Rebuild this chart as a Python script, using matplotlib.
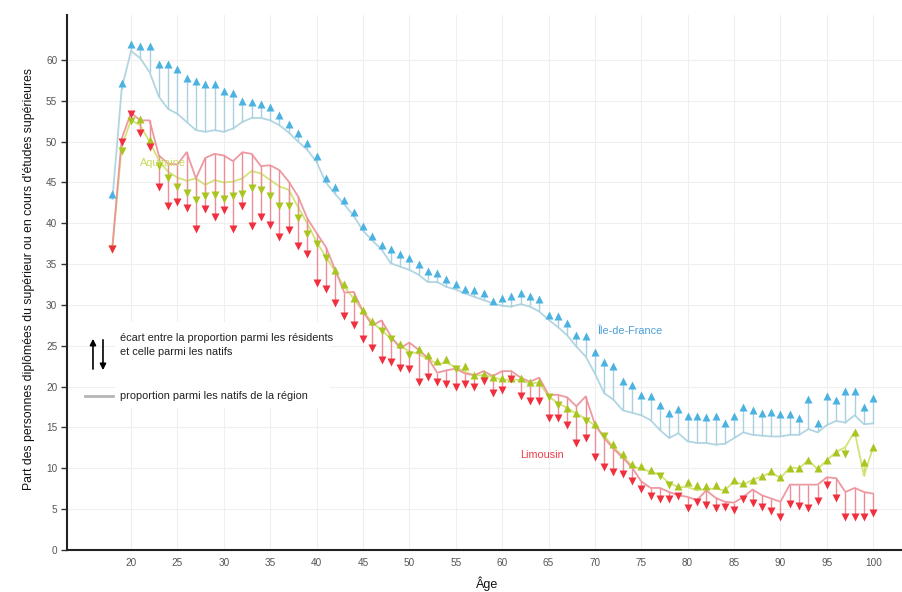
import matplotlib.pyplot as plt
from matplotlib.patches import Rectangle

plt.rcParams['font.family'] = ['Liberation Sans', 'DejaVu Sans']

ages = list(range(18, 101))

# Île-de-France : résidents / natifs
idf_res = [43.6, 57.2, 62.0, 61.7, 61.7, 59.5, 59.5, 58.9, 57.8, 57.4,
           57.1, 57.0, 56.2, 55.9, 55.0, 54.8, 54.6, 54.2, 53.2, 52.1,
           51.0, 49.8, 48.2, 45.6, 44.4, 42.9, 41.4, 39.7, 38.5, 37.4,
           36.8, 36.2, 35.7, 35.0, 34.1, 33.9, 33.2, 32.6, 32.0, 31.8,
           31.5, 30.5, 30.8, 31.1, 31.5, 31.1, 30.7, 28.8, 28.7, 27.8,
           26.3, 26.2, 24.2, 23.0, 22.5, 20.7, 20.2, 19.0, 18.8, 17.7,
           16.8, 17.3, 16.4, 16.4, 16.3, 16.4, 15.6, 16.4, 17.5, 17.2,
           16.8, 16.9, 16.6, 16.6, 16.1, 18.5, 15.5, 18.8, 18.4, 19.5,
           19.5, 17.5, 18.6]
idf_nat = [43.0, 56.5, 61.1, 60.2, 58.5, 55.5, 54.0, 53.4, 52.4, 51.4,
           51.2, 51.4, 51.2, 51.6, 52.4, 52.9, 52.9, 52.6, 52.0, 51.1,
           50.0, 49.0, 47.5, 45.0, 43.6, 42.3, 40.9, 39.1, 37.9, 36.8,
           35.1, 34.7, 34.3, 33.7, 32.8, 32.8, 32.2, 31.9, 31.4, 31.0,
           30.6, 30.2, 29.9, 29.8, 30.1, 29.8, 29.2, 28.2, 27.3, 26.3,
           24.9, 23.7, 21.6, 19.2, 18.4, 17.1, 16.8, 16.5, 15.9, 14.7,
           13.7, 14.3, 13.3, 13.1, 13.1, 12.9, 13.0, 13.7, 14.4, 14.1,
           14.0, 13.9, 13.9, 14.1, 14.1, 14.8, 14.4, 15.3, 15.8, 15.6,
           16.5, 15.4, 15.5]

# Limousin
lim_res = [36.8, 49.9, 53.4, 51.0, 49.4, 44.4, 42.1, 42.6, 41.9, 39.3,
           41.8, 40.8, 41.6, 39.3, 42.1, 39.7, 40.8, 39.8, 38.3, 39.2,
           37.2, 36.3, 32.7, 32.0, 30.2, 28.6, 27.5, 25.8, 24.7, 23.3,
           23.0, 22.3, 22.2, 20.6, 21.2, 20.6, 20.3, 19.9, 20.3, 19.9,
           20.7, 19.2, 19.6, 20.9, 18.9, 18.2, 18.2, 16.2, 16.2, 15.3,
           13.1, 13.7, 11.4, 10.2, 9.5, 9.3, 8.5, 7.5, 6.6, 6.3,
           6.2, 6.6, 5.2, 5.9, 5.5, 5.2, 5.3, 4.9, 6.3, 5.8,
           5.3, 4.8, 4.0, 5.6, 5.4, 5.2, 6.0, 8.0, 6.4, 4.0,
           4.0, 4.1, 4.5]
lim_nat = [37.2, 50.4, 53.5, 52.6, 52.6, 48.3, 47.3, 47.2, 48.7, 45.5,
           48.0, 48.5, 48.3, 47.6, 48.7, 48.5, 47.0, 47.1, 46.5, 45.1,
           43.3, 40.6, 38.8, 37.1, 34.3, 31.5, 31.6, 29.2, 27.5, 28.1,
           26.2, 24.7, 25.4, 24.5, 23.5, 21.7, 22.0, 22.2, 21.6, 21.4,
           21.9, 21.3, 21.9, 21.9, 21.1, 20.6, 21.1, 19.0, 19.0, 18.7,
           17.6, 18.8, 15.4, 13.7, 12.4, 11.3, 10.1, 8.4, 7.6, 7.6,
           7.1, 6.7, 6.5, 6.1, 7.3, 6.4, 5.9, 5.8, 6.5, 7.4,
           6.7, 6.3, 5.9, 8.0, 8.0, 8.0, 8.0, 8.9, 8.8, 7.1,
           7.6, 7.1, 6.9]

# Aquitaine
aq_res = [36.8, 48.9, 52.5, 52.8, 50.2, 47.0, 45.6, 44.4, 43.7, 42.8,
          43.3, 43.5, 43.0, 43.3, 43.6, 44.3, 44.1, 43.3, 42.1, 42.1,
          40.7, 38.7, 37.5, 35.7, 34.3, 32.6, 30.8, 29.4, 28.0, 26.8,
          25.8, 25.2, 23.9, 24.6, 23.9, 23.1, 23.4, 22.2, 22.5, 21.4,
          21.5, 21.2, 21.1, 21.1, 21.0, 20.6, 20.6, 18.7, 17.8, 17.4,
          16.8, 15.8, 15.4, 13.9, 13.0, 11.7, 10.5, 10.3, 9.8, 9.0,
          8.0, 7.8, 8.3, 7.9, 7.8, 7.9, 7.5, 8.6, 8.2, 8.6,
          9.1, 9.7, 8.9, 10.1, 10.1, 11.0, 10.1, 11.0, 12.0, 11.8,
          14.5, 10.8, 12.6]
aq_nat = [37.0, 49.5, 52.6, 52.0, 50.0, 47.7, 46.3, 45.6, 45.2, 45.5,
          44.7, 45.3, 45.0, 45.1, 45.5, 46.4, 46.1, 45.3, 44.5, 44.1,
          42.0, 40.0, 37.7, 35.9, 34.1, 32.2, 30.8, 29.2, 27.9, 26.9,
          25.9, 25.0, 24.3, 24.0, 23.4, 22.8, 22.9, 22.4, 21.8, 21.4,
          21.4, 21.2, 20.8, 20.9, 20.8, 20.4, 20.5, 18.8, 18.0, 17.4,
          16.7, 16.1, 15.2, 14.0, 12.6, 11.5, 10.3, 9.9, 9.6, 9.2,
          8.2, 7.7, 7.7, 7.3, 7.5, 7.5, 7.3, 8.4, 8.0, 8.6,
          9.0, 9.5, 8.8, 10.1, 10.0, 11.0, 9.9, 11.0, 12.0, 12.6,
          14.5, 9.1, 12.6]

regions = [
    # nom, résidents, natifs, couleur ligne, couleur marqueur
    ("Île-de-France", idf_res, idf_nat, '#a9d1df', '#4bb2e2'),
    ("Aquitaine", aq_res, aq_nat, '#cfe06a', '#a9c51f'),
    ("Limousin", lim_res, lim_nat, '#ec8e98', '#f0303f'),
]

fig = plt.figure(figsize=(9.02, 5.92), dpi=100)
ax = fig.add_axes([67 / 902, 42 / 592, 835 / 902, 535 / 592])

for nom, res, nat, c_line, c_mark in regions:
    ax.plot(ages, nat, color=c_line, lw=1.3, zorder=3, alpha=0.9)
    ax.vlines(ages, nat, res, color=c_line, lw=1.0, zorder=3)

for nom, res, nat, c_line, c_mark in regions:
    up_x = [a for a, r, n in zip(ages, res, nat) if r >= n]
    up_y = [r for r, n in zip(res, nat) if r >= n]
    dn_x = [a for a, r, n in zip(ages, res, nat) if r < n]
    dn_y = [r for r, n in zip(res, nat) if r < n]
    ax.plot(up_x, up_y, ls='none', marker='^', ms=6, color=c_mark, mec='none', zorder=4)
    ax.plot(dn_x, dn_y, ls='none', marker='v', ms=6, color=c_mark, mec='none', zorder=4)

# noms des régions
ax.text(21.0, 47.4, "Aquitaine", color='#c9dc5a', fontsize=7.8, va='center', zorder=5)
ax.text(70.2, 26.8, "Île-de-France", color='#4a9fd8', fontsize=7.8, va='center', zorder=5)
ax.text(61.9, 11.6, "Limousin", color='#ef3b4b', fontsize=7.8, va='center', zorder=5)

ax.set_xlim(13.1, 103.1)
ax.set_ylim(0, 65.5)
ax.set_xticks(range(20, 101, 5))
ax.set_yticks(range(0, 61, 5))
ax.tick_params(axis='both', labelsize=7.2, colors='#555555')
ax.tick_params(axis='x', length=0, pad=6)
ax.tick_params(axis='y', length=4, width=1, color='#333333', pad=3)
ax.grid(True, color='#efefef', lw=0.8)
ax.set_axisbelow(True)
for s in ['top', 'right']:
    ax.spines[s].set_visible(False)
for s in ['left', 'bottom']:
    ax.spines[s].set_color('#222222')
    ax.spines[s].set_linewidth(1.5)

ax.set_ylabel("Part des personnes diplômées du supérieur ou en cours d'études supérieures",
              fontsize=8.8, color='#111111')
ax.yaxis.set_label_coords(-0.038, 0.507)
ax.set_xlabel("Âge", fontsize=9, color='#111111', va='top')
ax.xaxis.set_label_coords(0.503, -0.05)

# légende
ax.add_patch(Rectangle((0.0575, 0.265), 0.2575, 0.161, transform=ax.transAxes,
                       fc='white', ec='none', zorder=2))
ax.annotate('', xy=(0.0311, 0.400), xytext=(0.0311, 0.333), xycoords='axes fraction',
            arrowprops=dict(arrowstyle='-|>', color='black', lw=1.2, mutation_scale=9), zorder=5)
ax.annotate('', xy=(0.0431, 0.331), xytext=(0.0431, 0.398), xycoords='axes fraction',
            arrowprops=dict(arrowstyle='-|>', color='black', lw=1.2, mutation_scale=9), zorder=5)
ax.text(0.0635, 0.383, "écart entre la proportion parmi les résidents\net celle parmi les natifs",
        transform=ax.transAxes, fontsize=7.9, va='center', color='#222222', zorder=5,
        linespacing=1.45)
ax.plot([0.0216, 0.055], [0.288, 0.288], transform=ax.transAxes, color='#b5b5b5', lw=2, zorder=5)
ax.text(0.0635, 0.288, "proportion parmi les natifs de la région", transform=ax.transAxes,
        fontsize=7.9, va='center', color='#222222', zorder=5)

fig.savefig("out.png", dpi=100)
